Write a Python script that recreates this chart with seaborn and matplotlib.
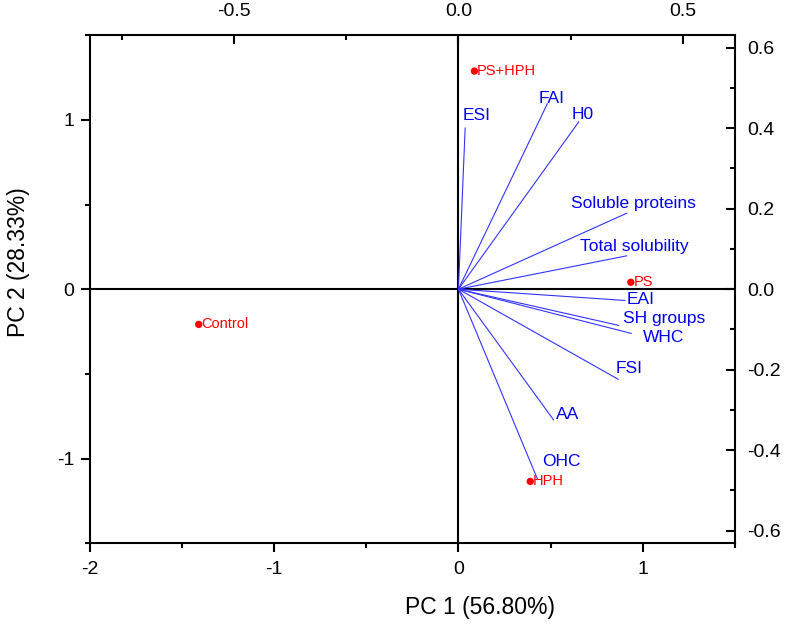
import numpy as np
import pandas as pd
import seaborn as sns
import matplotlib.pyplot as plt
from matplotlib.ticker import MultipleLocator, FormatStrFormatter

# scores (bottom / left axes)
samples = ['Control', 'PS', 'HPH', 'PS+HPH']
pc1_scores = [-1.41, 0.936, 0.390, 0.087]
pc2_scores = [-0.208, 0.041, -1.135, 1.288]

# loadings (top / right axes)
variables = ['ESI', 'FAI', 'H0', 'Soluble proteins', 'Total solubility', 'EAI',
             'SH groups', 'WHC', 'FSI', 'AA', 'OHC']
pc1_load = [0.015, 0.198, 0.268, 0.375, 0.375, 0.371, 0.357, 0.385, 0.356, 0.212, 0.176]
pc2_load = [0.401, 0.461, 0.416, 0.189, 0.083, -0.028, -0.090, -0.110, -0.224, -0.325, -0.472]

# label offsets in points (dx, dy) relative to the vector tip
label_offsets = {
    'ESI': (-2, 9), 'FAI': (-6, 4), 'H0': (-5, 5), 'Soluble proteins': (-40, 7),
    'Total solubility': (-34, 7), 'EAI': (1, 1), 'SH groups': (3, 5), 'WHC': (8, -3),
    'FSI': (-2, 8), 'AA': (2, 4), 'OHC': (3, 13),
}

scores = pd.DataFrame({'sample': samples, 'PC1': pc1_scores, 'PC2': pc2_scores})

sns.set_style('ticks')
plt.rcParams['font.family'] = ['Liberation Sans', 'DejaVu Sans']
plt.rcParams['axes.unicode_minus'] = False
plt.rcParams['text.color'] = 'black'
plt.rcParams['axes.labelcolor'] = 'black'

fig = plt.figure(figsize=(7.9, 6.28), dpi=100)
ax = fig.add_axes([0.114, 0.135, 0.816, 0.809])

ax.axhline(0, color='black', lw=1.5, zorder=1)
ax.axvline(0, color='black', lw=1.5, zorder=1)

sns.scatterplot(data=scores, x='PC1', y='PC2', color='red', s=28, edgecolor='none',
                ax=ax, zorder=4, legend=False)
for _, r in scores.iterrows():
    ax.annotate(r['sample'], (r['PC1'], r['PC2']), xytext=(2, 0), textcoords='offset points',
                color='red', fontsize=10.5, va='center', ha='left')

ax.set_xlim(-2, 1.5)
ax.set_ylim(-1.5, 1.5)
ax.xaxis.set_major_locator(MultipleLocator(1))
ax.xaxis.set_minor_locator(MultipleLocator(0.5))
ax.yaxis.set_major_locator(MultipleLocator(1))
ax.yaxis.set_minor_locator(MultipleLocator(0.5))
ax.tick_params(which='both', direction='out', width=1.5, labelsize=14,
               colors='black', labelcolor='black')
ax.tick_params(which='major', length=6.5)
ax.tick_params(which='minor', length=3.5)
ax.tick_params(axis='x', pad=6)
ax.tick_params(axis='y', pad=5)
for sp in ax.spines.values():
    sp.set_visible(True)
    sp.set_linewidth(1.5)
    sp.set_color('black')

ax.set_xlabel('PC 1 (56.80%)', fontsize=16.5)
ax.set_ylabel('PC 2 (28.33%)', fontsize=16.5)
ax.xaxis.set_label_coords(0.605, -0.104)
ax.yaxis.set_label_coords(-0.093, 0.553)

# loadings axes overlaid on the same box
ax2 = fig.add_axes(ax.get_position())
ax2.patch.set_visible(False)
ax2.set_xlim(-2 * 0.41, 1.5 * 0.41)
ax2.set_ylim(-1.5 * 0.4208, 1.5 * 0.4208)
for sp in ax2.spines.values():
    sp.set_visible(False)
ax2.xaxis.tick_top()
ax2.yaxis.tick_right()
ax2.xaxis.set_major_locator(MultipleLocator(0.5))
ax2.xaxis.set_minor_locator(MultipleLocator(0.25))
ax2.yaxis.set_major_locator(MultipleLocator(0.2))
ax2.yaxis.set_minor_locator(MultipleLocator(0.1))
ax2.xaxis.set_major_formatter(FormatStrFormatter('%.1f'))
ax2.yaxis.set_major_formatter(FormatStrFormatter('%.1f'))
ax2.tick_params(which='both', direction='in', width=1.5, labelsize=14,
                colors='black', labelcolor='black')
ax2.tick_params(which='major', length=6.5)
ax2.tick_params(which='minor', length=3.5)
ax2.tick_params(axis='x', pad=11)
ax2.tick_params(axis='y', pad=9)

for name, lx, ly in zip(variables, pc1_load, pc2_load):
    ax2.plot([0, lx], [0, ly], color='#3333ff', lw=0.8, zorder=2)
    dx, dy = label_offsets[name]
    ax2.annotate(name, (lx, ly), xytext=(dx, dy), textcoords='offset points',
                 color='#0000ee', fontsize=12.5, ha='left', va='center')

fig.savefig('out.png', dpi=100)
